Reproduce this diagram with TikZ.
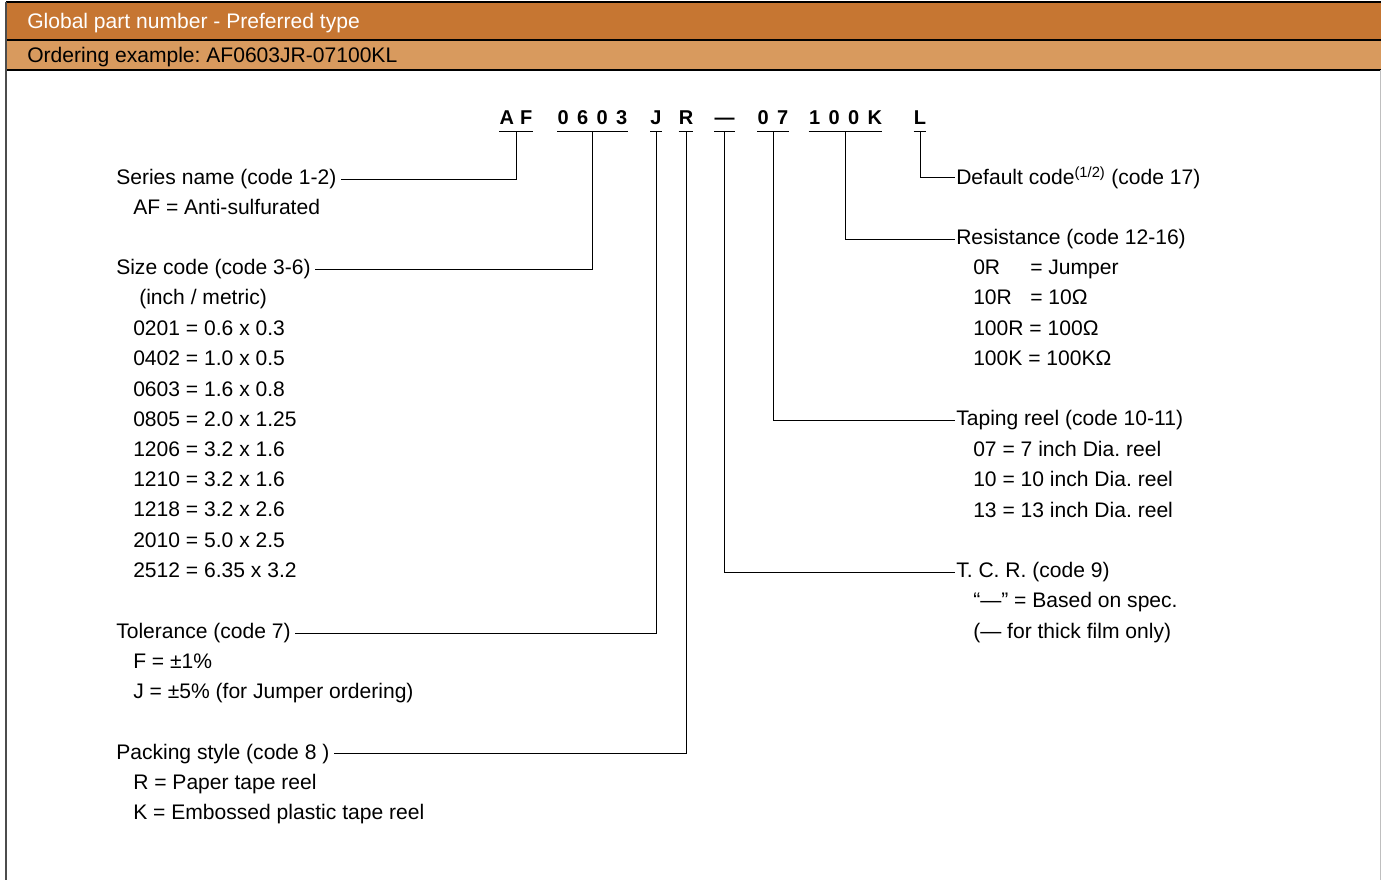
\documentclass[tikz,border=0pt]{standalone}
\usepackage{fontspec}
\setmainfont{Liberation Sans}
\frenchspacing
\definecolor{hdrdark}{HTML}{C67632}
\definecolor{hdrlight}{HTML}{D89A5E}
\tikzset{
  txt/.style={anchor=base west, inner sep=0pt, font=\fontsize{15.8}{19}\selectfont},
  lhead/.style={txt, inner xsep=3pt},
  rhead/.style={txt, inner xsep=0.75pt},
  code/.style={anchor=base, inner sep=0pt, font=\fontsize{15}{18}\selectfont\bfseries},
  lead/.style={line width=0.75pt},
}
\newcommand{\gap}{\kern6.3pt}
\begin{document}
\begin{tikzpicture}[x=0.75pt,y=-0.75pt]
\useasboundingbox (0,0) rectangle (1381,880);

% header bars
\fill[hdrdark] (6,2) rectangle (1381,40);
\fill[hdrlight] (6,40) rectangle (1381,70);
\foreach \y in {2,40,70} \draw[line width=0.9pt] (6,\y)--(1381,\y);
\draw[line width=0.9pt,black!70] (6,2)--(6,880);
\draw[line width=0.75pt,black!25] (1380,70)--(1380,880);
\node[txt,text=white] (title) at (27,28.5) {Global part number - Preferred type};
\node[txt] (example) at (27,63) {Ordering example: AF0603JR-07100KL};

% part number
\node[code] (af)   at (516,125)   {A\kern4.5pt F};
\node[code] (size) at (592.5,125) {0\gap 6\gap 0\gap 3};
\node[code] (tol)  at (656,125)   {J};
\node[code] (pack) at (686,125)   {R};
\node[code] (tcr)  at (724.5,125) {—};
\node[code] (reel) at (773,125)   {0\gap 7};
\node[code] (res)  at (845.5,125) {1\gap 0\gap 0\gap K};
\node[code] (def)  at (920,125)   {L};
\foreach \n in {af,size,tol,pack,tcr,reel,res,def}
  \draw[lead] ([yshift=-4.5pt]\n.south west)--([yshift=-4.5pt]\n.south east);

% left column
\node[lhead] (series) at (112,184.5) {Series name (code 1-2)};
\node[txt] at (133,214.5) {AF = Anti-sulfurated};

\node[lhead] (sizehd) at (112,275) {Size code (code 3-6)};
\node[txt] at (139,305) {(inch / metric)};
\foreach \s [count=\i] in {0201 = 0.6 x 0.3, 0402 = 1.0 x 0.5, 0603 = 1.6 x 0.8,
  0805 = 2.0 x 1.25, 1206 = 3.2 x 1.6, 1210 = 3.2 x 1.6, 1218 = 3.2 x 2.6,
  2010 = 5.0 x 2.5, 2512 = 6.35 x 3.2}
  \node[txt] (sz\i) at (133,305.5+30.2*\i) {\s};

\node[lhead] (tolhd) at (112,638.5) {Tolerance (code 7)};
\node[txt] at (133,668.5) {F = ±1\%};
\node[txt] at (133,698.5) {J = ±5\% (for Jumper ordering)};

\node[lhead] (packhd) at (112,759) {Packing style (code 8 )};
\node[txt] at (133,789) {R = Paper tape reel};
\node[txt] at (133,819) {K = Embossed plastic tape reel};

% right column
\node[rhead] (defhd) at (955,184.5) {Default code\textsuperscript{(1/2)} (code 17)};

\node[rhead] (reshd) at (955,244.5) {Resistance (code 12-16)};
\node[txt] at (973,275) {\makebox[42.75pt][l]{0R}= Jumper};
\node[txt] at (973,305) {\makebox[42.75pt][l]{10R}= 10Ω};
\node[txt] at (973,335.5) {100R = 100Ω};
\node[txt] at (973,365.5) {100K = 100KΩ};

\node[rhead] (reelhd) at (955,426) {Taping reel (code 10-11)};
\node[txt] at (973,456) {07 = 7 inch Dia. reel};
\node[txt] at (973,486.5) {10 = 10 inch Dia. reel};
\node[txt] at (973,517) {13 = 13 inch Dia. reel};

\node[rhead] (tcrhd) at (955,577.5) {T. C. R. (code 9)};
\node[txt] at (973,607.5) {“—” = Based on spec.};
\node[txt] at (973,638.5) {(— for thick film only)};

% leaders
\draw[lead] ([yshift=-4.5pt]af.south) |- (series.east);
\draw[lead] ([yshift=-4.5pt]size.south) |- (sizehd.east);
\draw[lead] ([yshift=-4.5pt]tol.south) |- (tolhd.east);
\draw[lead] ([yshift=-4.5pt]pack.south) |- (packhd.east);
\draw[lead] ([yshift=-4.5pt]tcr.south) |- (tcrhd.west);
\draw[lead] ([yshift=-4.5pt]reel.south) |- (reelhd.west);
\draw[lead] ([yshift=-4.5pt]res.south) |- (reshd.west);
\draw[lead] ([yshift=-4.5pt]def.south) |- (defhd.west);

\end{tikzpicture}
\end{document}
